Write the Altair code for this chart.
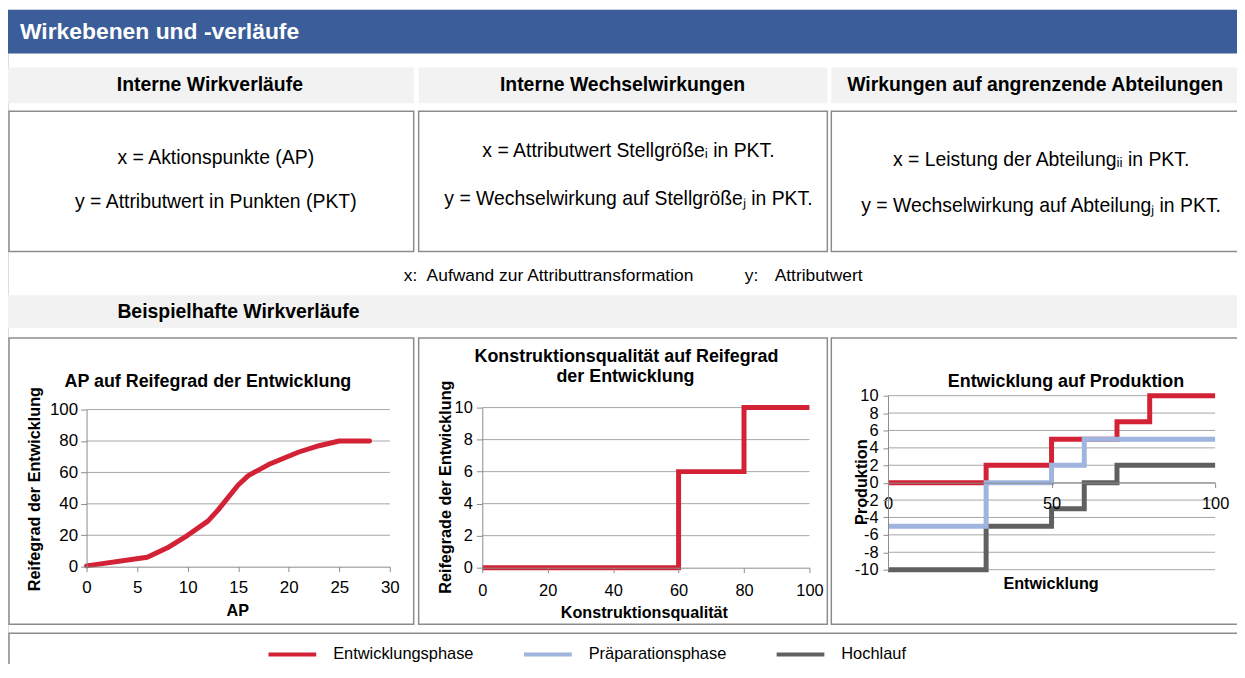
import altair as alt
import pandas as pd

# ---------------- data ----------------
header_title = "Wirkebenen und -verläufe"
column_titles = ["Interne Wirkverläufe", "Interne Wechselwirkungen",
                 "Wirkungen auf angrenzende Abteilungen"]
column_x_text = ["x = Aktionspunkte (AP)",
                 "x = Attributwert Stellgrößeᵢ in PKT.",
                 "x = Leistung der Abteilungᵢᵢ in PKT."]
column_y_text = ["y = Attributwert in Punkten (PKT)",
                 "y = Wechselwirkung auf Stellgrößeⱼ in PKT.",
                 "y = Wechselwirkung auf Abteilungⱼ in PKT."]
info_x = ["x:", "Aufwand zur Attributtransformation"]
info_y = ["y:", "Attributwert"]
section_title = "Beispielhafte Wirkverläufe"

# chart 1
c1_title = "AP auf Reifegrad der Entwicklung"
c1_xtitle, c1_ytitle = "AP", "Reifegrad der Entwicklung"
ap_x = [0, 6, 8, 10, 12, 13, 15, 16, 18, 21, 23, 25, 28]
ap_y = [0.5, 6, 12, 20, 29, 36, 52, 58, 65, 73, 77, 80, 80]
c1_xticks = [0, 5, 10, 15, 20, 25, 30]
c1_yticks = [0, 20, 40, 60, 80, 100]

# chart 2
c2_title = ["Konstruktionsqualität auf Reifegrad", "der Entwicklung"]
c2_xtitle, c2_ytitle = "Konstruktionsqualität", "Reifegrade der Entwicklung"
kq_x = [0, 60, 80, 100]
kq_y = [0, 6, 10, 10]
c2_xticks = [0, 20, 40, 60, 80, 100]
c2_yticks = [0, 2, 4, 6, 8, 10]

# chart 3
c3_title = "Entwicklung auf Produktion"
c3_xtitle, c3_ytitle = "Entwicklung", "Produktion"
ent_x = [0, 30, 50, 60, 70, 80, 100]
series_names = ["Entwicklungsphase", "Präparationsphase", "Hochlauf"]
entwicklungsphase = [0, 2, 5, 5, 7, 10, 10]
praeparationsphase = [-5, 0, 2, 5, 5, 5, 5]
hochlauf = [-10, -5, -3, 0, 2, 2, 2]
c3_xticks = [0, 50, 100]
c3_yticks = [-10, -8, -6, -4, -2, 0, 2, 4, 6, 8, 10]

# ---------------- style ----------------
FONT = "Liberation Sans"
W, H = 1236, 656
RED = "#D32135"
BLUE = "#9FB4DE"
DARK = "#606060"
HEADER_BLUE = "#3B5D99"
LIGHT = "#F2F2F2"
BORDER = "#8C8C8C"
GRID = "#A6A6A6"
AXIS = "#8C8C8C"

ONE = pd.DataFrame({"k": [0]})


def rect(x1, y1, x2, y2, fill, stroke=None, sw=0.0):
    kw = dict(fill=fill)
    if stroke:
        kw.update(stroke=stroke, strokeWidth=sw)
    return alt.Chart(ONE).mark_rect(**kw).encode(
        x=alt.value(x1), x2=alt.value(x2), y=alt.value(y1), y2=alt.value(y2))


def label(text, x, y, size, bold=False, color="black", align="center", angle=0):
    kw = dict(text=text, fontSize=size, fontWeight="bold" if bold else "normal",
              color=color, align=align, baseline="middle", font=FONT)
    if angle:
        kw["angle"] = angle
    return alt.Chart(ONE).mark_text(**kw).encode(x=alt.value(x), y=alt.value(y))


def axis(orient, offset, values, size, tick=5, pad=3):
    return alt.Axis(orient=orient, offset=offset, values=values, title=None, grid=False,
                    domainColor=AXIS, tickColor=AXIS, tickSize=tick, labelFontSize=size,
                    labelColor="black", labelFont=FONT, labelPadding=pad,
                    labelFlush=False, labelOverlap=False, labelExpr="datum.value + ''",
                    zindex=2)


layers = []

# header bar
layers.append(rect(0, 0, 1250, 44, HEADER_BLUE))
layers.append(label(header_title, 12, 22, 23, bold=True, color="white", align="left"))

# three columns
cols = [(0, 408), (413, 824), (828, 1250)]
box_left = [1, 413, 828]
head_cx = [203, 618, 1033]
text_cx = [209, 624, 1039]
line1_y = [149, 142, 151]
line2_y = [193, 190, 197]
for i, (a, b) in enumerate(cols):
    layers.append(rect(a, 58, b, 94, LIGHT))
    layers.append(label(column_titles[i], head_cx[i], 76, 19.5, bold=True))
    layers.append(rect(box_left[i], 102, b, 243, "white", BORDER, 1.5))
    layers.append(label(column_x_text[i], text_cx[i], line1_y[i], 19.5))
    layers.append(label(column_y_text[i], text_cx[i], line2_y[i], 19.5))

# info line
layers.append(label(info_x[0], 398, 268, 17.5, align="left"))
layers.append(label(info_x[1], 421, 268, 17.5, align="left"))
layers.append(label(info_y[0], 741, 268, 17.5, align="left"))
layers.append(label(info_y[1], 771, 268, 17.5, align="left"))

# section bar
layers.append(rect(0, 287, 1250, 320, LIGHT))
layers.append(label(section_title, 110, 304, 19.5, bold=True, align="left"))

# chart boxes + legend box
for i, (a, b) in enumerate(cols):
    layers.append(rect(box_left[i], 330, b, 618, "white", BORDER, 1.5))
layers.append(rect(1, 627, 1250, 720, "white", BORDER, 1.5))

# ---------------- chart 1 ----------------
X1 = (79, 384)
Y1 = (560, 402)
sx1 = alt.Scale(domain=[0, 30], range=list(X1), nice=False, zero=False)
sy1 = alt.Scale(domain=[0, 100], range=list(Y1), nice=False, zero=False)
ay1 = axis("left", -X1[0], c1_yticks, 17, 6, 3)
grid1 = alt.Chart(pd.DataFrame({"v": c1_yticks[1:]})).mark_rule(
    color=GRID, strokeWidth=1).encode(
    x=alt.value(X1[0]), x2=alt.value(X1[1]),
    y=alt.Y("v:Q", scale=sy1, axis=ay1))
line1 = alt.Chart(pd.DataFrame({"AP": ap_x, "Reifegrad": ap_y})).mark_line(
    color=RED, strokeWidth=5, strokeCap="round", strokeJoin="round").encode(
    x=alt.X("AP:Q", scale=sx1, axis=axis("bottom", Y1[0] - H, c1_xticks, 17, 5, 8)),
    y=alt.Y("Reifegrad:Q", scale=sy1, axis=ay1))
chart1 = alt.layer(grid1, line1)
layers.append(chart1)
layers.append(label(c1_title, 201, 374, 18, bold=True))
layers.append(label(c1_ytitle, 27, 482, 16.3, bold=True, angle=270))
layers.append(label(c1_xtitle, 231, 605, 16.3, bold=True))

# ---------------- chart 2 ----------------
X2 = (477, 806)
Y2 = (561, 400)
sx2 = alt.Scale(domain=[0, 100], range=list(X2), nice=False, zero=False)
sy2 = alt.Scale(domain=[0, 10], range=list(Y2), nice=False, zero=False)
ay2 = axis("left", -X2[0], c2_yticks, 16.5, 6, 4)
grid2 = alt.Chart(pd.DataFrame({"v": c2_yticks[1:]})).mark_rule(
    color=GRID, strokeWidth=1).encode(
    x=alt.value(X2[0]), x2=alt.value(X2[1]),
    y=alt.Y("v:Q", scale=sy2, axis=ay2))
line2 = alt.Chart(pd.DataFrame({"KQ": kq_x, "RG": kq_y})).mark_line(
    color=RED, strokeWidth=5, interpolate="step-after").encode(
    x=alt.X("KQ:Q", scale=sx2, axis=axis("bottom", Y2[0] - H, c2_xticks, 16.5, 5, 10)),
    y=alt.Y("RG:Q", scale=sy2, axis=ay2))
chart2 = alt.layer(grid2, line2)
layers.append(chart2)
layers.append(label(c2_title[0], 622, 349, 18, bold=True))
layers.append(label(c2_title[1], 621, 369, 18, bold=True))
layers.append(label(c2_ytitle, 441, 480, 16.3, bold=True, angle=270))
layers.append(label(c2_xtitle, 640, 607, 16.3, bold=True))

# ---------------- chart 3 ----------------
X3 = (885, 1214)
Y3 = (563, 388)
sx3 = alt.Scale(domain=[0, 100], range=list(X3), nice=False, zero=False)
sy3 = alt.Scale(domain=[-10, 10], range=list(Y3), nice=False, zero=False)
zero_y = (Y3[0] + Y3[1]) / 2
ay3 = axis("left", -X3[0], c3_yticks, 16.5, 5, 5)
rows = []
for name, vals in [(series_names[0], entwicklungsphase),
                   (series_names[2], hochlauf),
                   (series_names[1], praeparationsphase)]:
    for xv, yv in zip(ent_x, vals):
        rows.append({"Entwicklung": xv, "Produktion": yv, "Phase": name})
df3 = pd.DataFrame(rows)
grid3 = alt.Chart(pd.DataFrame({"v": c3_yticks})).mark_rule(
    color=GRID, strokeWidth=1).encode(
    x=alt.value(X3[0]), x2=alt.value(X3[1]),
    y=alt.Y("v:Q", scale=sy3, axis=ay3))
line3 = alt.Chart(df3).mark_line(strokeWidth=5, interpolate="step-after").encode(
    x=alt.X("Entwicklung:Q", scale=sx3,
            axis=axis("bottom", zero_y - H, c3_xticks, 16.5, 5, 8)),
    y=alt.Y("Produktion:Q", scale=sy3, axis=ay3),
    color=alt.Color("Phase:N", scale=alt.Scale(domain=series_names, range=[RED, BLUE, DARK]),
                    legend=alt.Legend(orient="none", legendX=260, legendY=622,
                                      direction="horizontal", title=None,
                                      symbolType="stroke", symbolStrokeWidth=4,
                                      symbolSize=2304, labelFontSize=16.5, labelFont=FONT,
                                      labelColor="black", labelOffset=15,
                                      columnPadding=42, padding=0, zindex=2)))
chart3 = alt.layer(grid3, line3)
layers.append(chart3)
layers.append(label(c3_title, 1064, 374, 18, bold=True))
layers.append(label(c3_ytitle, 859, 475, 16.3, bold=True, angle=270))
layers.append(label(c3_xtitle, 1049, 577, 16.3, bold=True))

chart = alt.layer(*layers).resolve_scale(
    x="independent", y="independent"
).properties(
    width=W, height=H, autosize=alt.AutoSizeParams(type="none"), padding=0,
    background="white"
).configure_view(stroke=None).configure(font=FONT)

chart.save("out.html", embed_options={"renderer": "svg", "actions": False})
